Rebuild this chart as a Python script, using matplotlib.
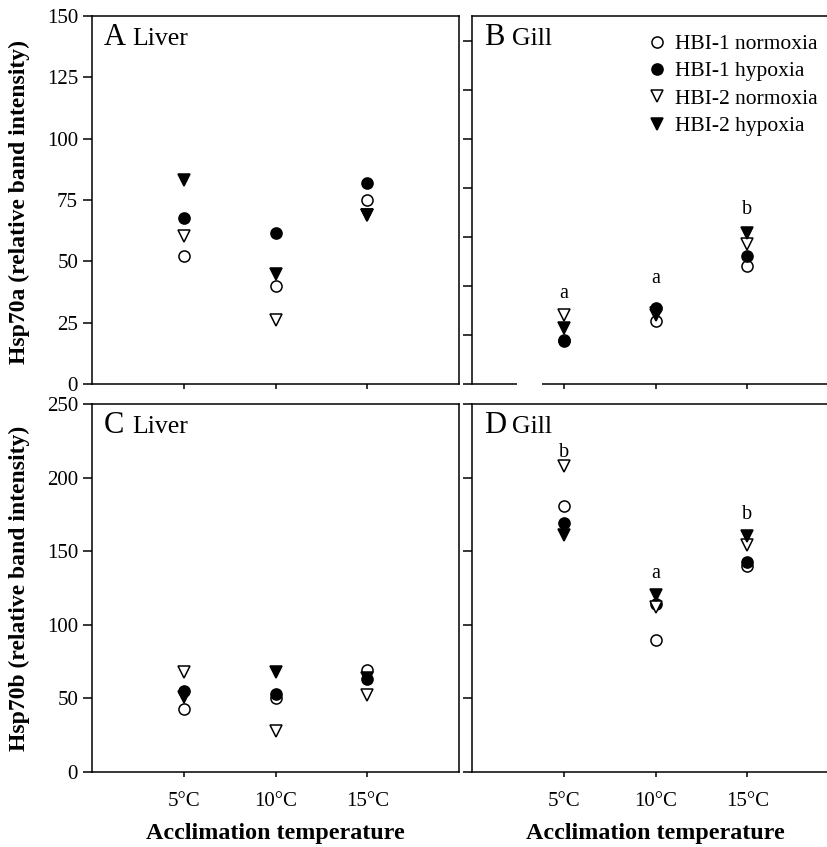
import numpy as np
import matplotlib
matplotlib.use("Agg")
import matplotlib.pyplot as plt
import matplotlib.transforms as mtransforms
from matplotlib.lines import Line2D

plt.rcParams['font.family'] = ['Liberation Serif', 'DejaVu Serif']

temps = ['5°C', '10°C', '15°C']
series = ['HBI-1 normoxia', 'HBI-1 hypoxia', 'HBI-2 normoxia', 'HBI-2 hypoxia']

# Hsp70a, liver / gill
liver_a = {
    'HBI-1 normoxia': [52, 40, 75],
    'HBI-1 hypoxia': [67.5, 61.5, 82],
    'HBI-2 normoxia': [60.5, 26, 69],
    'HBI-2 hypoxia': [83, 45, 69],
}
gill_a = {
    'HBI-1 normoxia': [18, 25.5, 48],
    'HBI-1 hypoxia': [17.5, 31, 52],
    'HBI-2 normoxia': [28, 28, 57],
    'HBI-2 hypoxia': [23, 29, 61.5],
}
# Hsp70b, liver / gill
liver_b = {
    'HBI-1 normoxia': [43, 50, 69],
    'HBI-1 hypoxia': [55, 53, 63],
    'HBI-2 normoxia': [68, 28, 52],
    'HBI-2 hypoxia': [51, 68, 64],
}
gill_b = {
    'HBI-1 normoxia': [181, 90, 140],
    'HBI-1 hypoxia': [169, 114, 143],
    'HBI-2 normoxia': [208, 112, 154],
    'HBI-2 hypoxia': [161, 120, 160],
}
gill_a_letters = ['a', 'a', 'b']
gill_a_letter_y = [37, 43, 71]
gill_b_letters = ['b', 'a', 'b']
gill_b_letter_y = [217, 135, 175]

styles = {
    'HBI-1 normoxia': dict(marker='o', mfc='white'),
    'HBI-1 hypoxia': dict(marker='o', mfc='black'),
    'HBI-2 normoxia': dict(marker='v', mfc='white'),
    'HBI-2 hypoxia': dict(marker='v', mfc='black'),
}

W, H = 827, 847
fig = plt.figure(figsize=(W / 100, H / 100), dpi=100)


def px_axes(left, top, right, bottom):
    return fig.add_axes([left / W, 1 - bottom / H, (right - left) / W, (bottom - top) / H])


axA = px_axes(92, 16, 459, 384)
axB = px_axes(472, 16, 839, 384)
axC = px_axes(92, 404, 459, 772)
axD = px_axes(472, 404, 839, 772)

x = np.arange(1, len(temps) + 1)


def draw(ax, data, ylim, yticks, ylabels, xlabels, panel, tissue):
    for name in series:
        ax.plot(x, data[name], linestyle='none', color='black', mec='black',
                ms=8, mew=1.1, clip_on=False, **styles[name])
    ax.set_xlim(0, 4)
    ax.set_ylim(*ylim)
    ax.set_yticks(yticks)
    ax.set_xticks(x)
    if ylabels:
        ax.set_yticklabels([str(v) for v in yticks])
    else:
        ax.set_yticklabels([])
    if xlabels:
        ax.set_xticklabels(temps)
        ax.set_xlabel('Acclimation temperature', fontsize=17.3, fontweight='bold', labelpad=9)
    else:
        ax.set_xticklabels([])
    ax.tick_params(axis='y', direction='out', length=6.5, width=1.1, labelsize=15, pad=3.5)
    ax.tick_params(axis='x', direction='out', length=3.6, width=1.1, labelsize=15, pad=10.5)
    for s in ax.spines.values():
        s.set_linewidth(1.1)
    ax.text(0.033, 0.92, panel, transform=ax.transAxes, fontsize=22, va='baseline')
    ax.text(0.11, 0.92, tissue, transform=ax.transAxes, fontsize=18.5, va='baseline')


draw(axA, liver_a, (0, 150), np.arange(0, 151, 25), True, False, 'A', 'Liver')
draw(axB, gill_a, (0, 150), np.arange(0, 141, 20), False, False, 'B', 'Gill')
draw(axC, liver_b, (0, 250), np.arange(0, 251, 50), True, True, 'C', 'Liver')
draw(axD, gill_b, (0, 250), np.arange(0, 251, 50), False, True, 'D', 'Gill')

for ax, letters, ly in [(axB, gill_a_letters, gill_a_letter_y), (axD, gill_b_letters, gill_b_letter_y)]:
    for xi, t, yv in zip(x, letters, ly):
        ax.text(xi, yv, t, ha='center', va='center', fontsize=14.5)

# broken bottom axis line in panel B
axB.spines['bottom'].set_visible(False)
trans = mtransforms.blended_transform_factory(axB.transData, axB.transAxes)
axB.plot([0, 0.49], [0, 0], color='black', lw=1.1, transform=trans, clip_on=False,
         solid_capstyle='butt')
axB.plot([0.76, 4], [0, 0], color='black', lw=1.1, transform=trans, clip_on=False,
         solid_capstyle='butt')

handles = [Line2D([], [], linestyle='none', color='black', mec='black', ms=8, mew=1.1,
                  **styles[n]) for n in series]
axB.legend(handles, series, loc='upper left', bbox_to_anchor=(0.435, 0.992), frameon=False,
           fontsize=15.5, handletextpad=0.3, labelspacing=0.34, handlelength=1.0,
           borderaxespad=0.3)

fig.text(19 / W, 1 - 202 / H, 'Hsp70a (relative band intensity)', rotation=90,
         ha='center', va='center', fontsize=17, fontweight='bold')
fig.text(19 / W, 1 - 588 / H, 'Hsp70b (relative band intensity)', rotation=90,
         ha='center', va='center', fontsize=17, fontweight='bold')

fig.savefig('out.png', dpi=100)
